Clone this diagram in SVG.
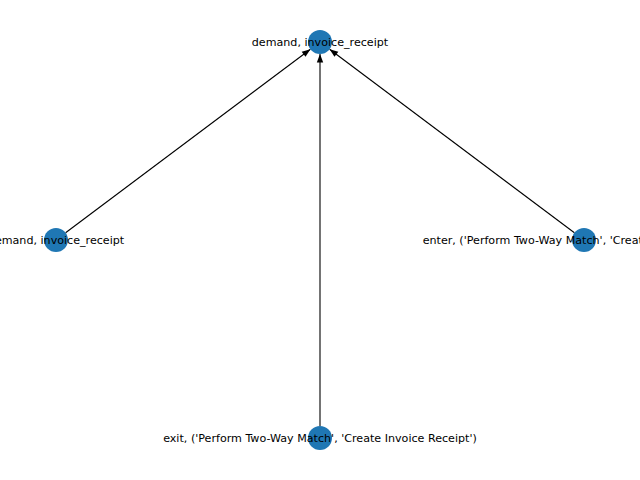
<svg xmlns="http://www.w3.org/2000/svg" width="640" height="480" viewBox="0 0 640 480">
<style>
.node{fill:#1f77b4}
.lbl{font-family:"DejaVu Sans",sans-serif;font-size:11.11px;fill:#000;text-anchor:middle}
.edge{stroke:#000;stroke-width:1.1;fill:none}
</style>
<defs>
<marker id="arr" markerUnits="userSpaceOnUse" markerWidth="12" markerHeight="10" viewBox="-10 -5 12 10" refX="0" refY="0" orient="auto">
<path d="M0,0 L-8.5,-3.2 L-8.5,3.2 z" fill="#000"/>
</marker>
</defs>
<rect width="640" height="480" fill="#fff"/>
<g id="connectors">
<line class="edge" x1="65.6" y1="232.8" x2="310.4" y2="49.2" marker-end="url(#arr)"/>
<line class="edge" x1="574.4" y1="232.8" x2="329.6" y2="49.2" marker-end="url(#arr)"/>
<line class="edge" x1="320" y1="426" x2="320" y2="54" marker-end="url(#arr)"/>
</g>
<g id="node-top">
<circle class="node" cx="320" cy="42" r="12"/>
<text class="lbl" x="320" y="45.5">demand, invoice_receipt</text>
</g>
<g id="node-left">
<circle class="node" cx="56" cy="240" r="12"/>
<text class="lbl" x="56" y="243.5">demand, invoice_receipt</text>
</g>
<g id="node-right">
<circle class="node" cx="584" cy="240" r="12"/>
<text class="lbl" x="584" y="243.5">enter, ('Perform Two-Way Match', 'Create Invoice Receipt')</text>
</g>
<g id="node-bottom">
<circle class="node" cx="320" cy="438" r="12"/>
<text class="lbl" x="320" y="441.5">exit, ('Perform Two-Way Match', 'Create Invoice Receipt')</text>
</g>
</svg>
